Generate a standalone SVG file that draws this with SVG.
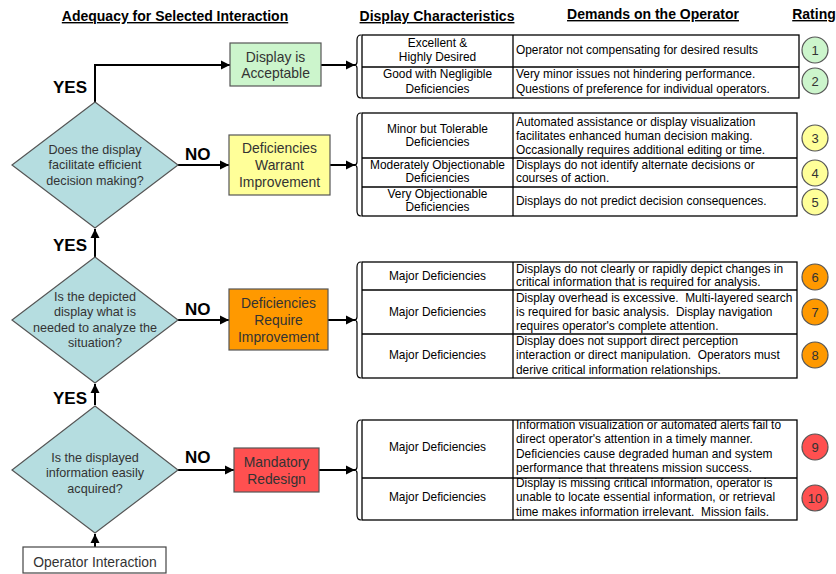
<svg xmlns="http://www.w3.org/2000/svg" width="836" height="574" viewBox="0 0 836 574">
<defs>
<marker id="ah" markerUnits="userSpaceOnUse" markerWidth="10" markerHeight="10" refX="9" refY="5" orient="auto">
<path d="M0,0.5 L9,5 L0,9.5 z" fill="#000"/>
</marker>
<style>
text{font-family:"Liberation Sans",Arial,sans-serif;white-space:pre}
.hdr{font-size:14px;font-weight:bold;text-decoration:underline;text-anchor:middle;fill:#000}
.lbl{font-size:17px;font-weight:bold;fill:#000}
.dq{font-size:12.6px;fill:#333;text-anchor:middle}
.bx{font-size:13.9px;fill:#333;text-anchor:middle}
.tc{font-size:11.9px;fill:#000;text-anchor:middle}
.tl{font-size:11.9px;fill:#000}
.rn{font-size:13px;fill:#333;text-anchor:middle}
.dia{fill:#b5dde0;stroke:#555;stroke-width:1.2}
.box{stroke:#555;stroke-width:1.2}
.tbl{fill:#fff;stroke:#000;stroke-width:1.3}
.ln{stroke:#000;stroke-width:1.3}
.br{fill:none;stroke:#000;stroke-width:1.2}
.con{fill:none;stroke:#000;stroke-width:2;marker-end:url(#ah)}
.cir{stroke:#555;stroke-width:1.2}
.g{fill:#ccf5cc}.y{fill:#ffff99}.o{fill:#ff9900}.r{fill:#ff5050}
</style>
</defs>
<rect width="836" height="574" fill="#fff"/>

<g id="headers">
<text class="hdr" x="175" y="21">Adequacy for Selected Interaction</text>
<text class="hdr" x="437" y="21">Display Characteristics</text>
<text class="hdr" x="653" y="19">Demands on the Operator</text>
<text class="hdr" x="814" y="19">Rating</text>
</g>

<g id="connectors">
<path class="con" d="M95,102 V65 H230"/>
<path class="con" d="M321,65 H355"/>
<path class="con" d="M178,165 H229"/>
<path class="con" d="M330,165 H355"/>
<path class="con" d="M95,257 V229"/>
<path class="con" d="M178,320 H229"/>
<path class="con" d="M328,320 H355"/>
<path class="con" d="M95,405 V384"/>
<path class="con" d="M178,470 H234"/>
<path class="con" d="M319,470 H355"/>
<path class="con" d="M95,547 V534"/>
<text class="lbl" x="53" y="93">YES</text>
<text class="lbl" x="53" y="251">YES</text>
<text class="lbl" x="53" y="404">YES</text>
<text class="lbl" x="185" y="160">NO</text>
<text class="lbl" x="185" y="315">NO</text>
<text class="lbl" x="185" y="463">NO</text>
</g>

<g id="q1">
<polygon class="dia" points="95,102 178,165 95,228 12,165"/>
<text class="dq" x="95" y="154">Does the display</text>
<text class="dq" x="95" y="169">facilitate efficient</text>
<text class="dq" x="95" y="185">decision making?</text>
</g>
<g id="q2">
<polygon class="dia" points="95,257 178,320 95,383 12,320"/>
<text class="dq" x="95" y="301">Is the depicted</text>
<text class="dq" x="95" y="316">display what is</text>
<text class="dq" x="95" y="332">needed to analyze the</text>
<text class="dq" x="95" y="347">situation?</text>
</g>
<g id="q3">
<polygon class="dia" points="95,406 178,470 95,533 12,470"/>
<text class="dq" x="95" y="462">Is the displayed</text>
<text class="dq" x="95" y="477">information easily</text>
<text class="dq" x="95" y="493">acquired?</text>
</g>
<g id="operator">
<rect x="23" y="547" width="143" height="26" fill="#fff" stroke="#444" stroke-width="1.2"/>
<text class="bx" x="95" y="567">Operator Interaction</text>
</g>

<g id="acceptable">
<rect class="box g" x="230" y="43" width="91" height="43"/>
<text class="bx" x="275.5" y="62">Display is</text>
<text class="bx" x="275.5" y="78">Acceptable</text>
</g>
<g id="warrant">
<rect class="box y" x="229" y="135" width="101" height="60"/>
<text class="bx" x="279.5" y="153">Deficiencies</text>
<text class="bx" x="279.5" y="170">Warrant</text>
<text class="bx" x="279.5" y="187">Improvement</text>
</g>
<g id="require">
<rect class="box o" x="229" y="289" width="99" height="61"/>
<text class="bx" x="278.5" y="308">Deficiencies</text>
<text class="bx" x="278.5" y="325">Require</text>
<text class="bx" x="278.5" y="342">Improvement</text>
</g>
<g id="redesign">
<rect class="box r" x="234" y="448" width="85" height="44"/>
<text class="bx" x="276.5" y="467">Mandatory</text>
<text class="bx" x="276.5" y="484">Redesign</text>
</g>

<g id="table1">
<path class="br" d="M361,35 Q357,35 357,40 V62 Q357,65 354,65 Q357,65 357,68 V93 Q357,98 361,98"/>
<rect class="tbl" x="362" y="35" width="437" height="63"/>
<line class="ln" x1="513" y1="35" x2="513" y2="98"/>
<line class="ln" x1="362" y1="67" x2="799" y2="67"/>
<text class="tc" x="437.5" y="47">Excellent &amp;</text>
<text class="tc" x="437.5" y="61">Highly Desired</text>
<text class="tl" x="516" y="54">Operator not compensating for desired results</text>
<text class="tc" x="437.5" y="78">Good with Negligible</text>
<text class="tc" x="437.5" y="93">Deficiencies</text>
<text class="tl" x="516" y="78">Very minor issues not hindering performance.</text>
<text class="tl" x="516" y="93">Questions of preference for individual operators.</text>
</g>
<g id="table2">
<path class="br" d="M361,113 Q357,113 357,118 V162 Q357,165 354,165 Q357,165 357,168 V211 Q357,216 361,216"/>
<rect class="tbl" x="362" y="113" width="435" height="103"/>
<line class="ln" x1="513" y1="113" x2="513" y2="216"/>
<line class="ln" x1="362" y1="158" x2="797" y2="158"/>
<line class="ln" x1="362" y1="187" x2="797" y2="187"/>
<text class="tc" x="437.5" y="133">Minor but Tolerable</text>
<text class="tc" x="437.5" y="146">Deficiencies</text>
<text class="tl" x="516" y="126">Automated assistance or display visualization</text>
<text class="tl" x="516" y="140">facilitates enhanced human decision making.</text>
<text class="tl" x="516" y="154">Occasionally requires additional editing or time.</text>
<text class="tc" x="437.5" y="169">Moderately Objectionable</text>
<text class="tc" x="437.5" y="182">Deficiencies</text>
<text class="tl" x="516" y="169">Displays do not identify alternate decisions or</text>
<text class="tl" x="516" y="182">courses of action.</text>
<text class="tc" x="437.5" y="198">Very Objectionable</text>
<text class="tc" x="437.5" y="211">Deficiencies</text>
<text class="tl" x="516" y="205">Displays do not predict decision consequences.</text>
</g>
<g id="table3">
<path class="br" d="M361,262 Q357,262 357,267 V317 Q357,320 354,320 Q357,320 357,323 V373 Q357,378 361,378"/>
<rect class="tbl" x="362" y="262" width="435" height="116"/>
<line class="ln" x1="513" y1="262" x2="513" y2="378"/>
<line class="ln" x1="362" y1="290" x2="797" y2="290"/>
<line class="ln" x1="362" y1="334" x2="797" y2="334"/>
<text class="tc" x="437.5" y="280">Major Deficiencies</text>
<text class="tl" x="516" y="273">Displays do not clearly or rapidly depict changes in</text>
<text class="tl" x="516" y="286">critical information that is required for analysis.</text>
<text class="tc" x="437.5" y="316">Major Deficiencies</text>
<text class="tl" x="516" y="302">Display overhead is excessive.  Multi-layered search</text>
<text class="tl" x="516" y="316">is required for basic analysis.  Display navigation</text>
<text class="tl" x="516" y="330">requires operator's complete attention.</text>
<text class="tc" x="437.5" y="359">Major Deficiencies</text>
<text class="tl" x="516" y="345">Display does not support direct perception</text>
<text class="tl" x="516" y="359">interaction or direct manipulation.  Operators must</text>
<text class="tl" x="516" y="374">derive critical information relationships.</text>
</g>
<g id="table4">
<path class="br" d="M361,420 Q357,420 357,425 V467 Q357,470 354,470 Q357,470 357,473 V515 Q357,520 361,520"/>
<rect class="tbl" x="362" y="420" width="435" height="100"/>
<line class="ln" x1="513" y1="420" x2="513" y2="520"/>
<line class="ln" x1="362" y1="478" x2="797" y2="478"/>
<text class="tc" x="437.5" y="451">Major Deficiencies</text>
<text class="tl" x="516" y="429">Information visualization or automated alerts fail to</text>
<text class="tl" x="516" y="443">direct operator's attention in a timely manner.</text>
<text class="tl" x="516" y="458">Deficiencies cause degraded human and system</text>
<text class="tl" x="516" y="472">performance that threatens mission success.</text>
<text class="tc" x="437.5" y="501">Major Deficiencies</text>
<text class="tl" x="516" y="487">Display is missing critical information, operator is</text>
<text class="tl" x="516" y="501">unable to locate essential information, or retrieval</text>
<text class="tl" x="516" y="516">time makes information irrelevant.  Mission fails.</text>
</g>

<g id="rating1"><circle class="cir g" cx="815" cy="50" r="13"/><text class="rn" x="815" y="55">1</text></g>
<g id="rating2"><circle class="cir g" cx="815" cy="81" r="13"/><text class="rn" x="815" y="86">2</text></g>
<g id="rating3"><circle class="cir y" cx="815" cy="138" r="13"/><text class="rn" x="815" y="143">3</text></g>
<g id="rating4"><circle class="cir y" cx="815" cy="173" r="13"/><text class="rn" x="815" y="178">4</text></g>
<g id="rating5"><circle class="cir y" cx="815" cy="202" r="13"/><text class="rn" x="815" y="207">5</text></g>
<g id="rating6"><circle class="cir o" cx="815" cy="277" r="13"/><text class="rn" x="815" y="282">6</text></g>
<g id="rating7"><circle class="cir o" cx="815" cy="312" r="13"/><text class="rn" x="815" y="317">7</text></g>
<g id="rating8"><circle class="cir o" cx="815" cy="355" r="13"/><text class="rn" x="815" y="360">8</text></g>
<g id="rating9"><circle class="cir r" cx="815" cy="447" r="13"/><text class="rn" x="815" y="452">9</text></g>
<g id="rating10"><circle class="cir r" cx="815" cy="498" r="13"/><text class="rn" x="815" y="503">10</text></g>
</svg>
